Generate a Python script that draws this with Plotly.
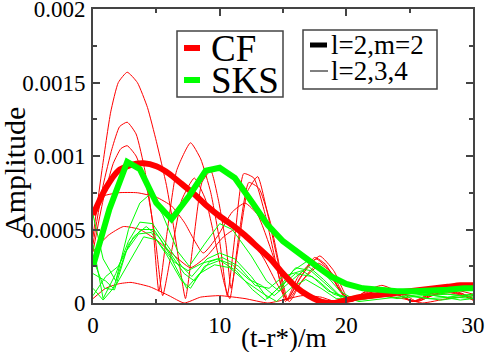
import plotly.graph_objects as go

# thick curves (l=2, m=2)
cf_t = [0, 1, 2, 3, 4, 5, 6, 7, 8, 9, 10, 11, 12, 13, 14, 15, 16, 17, 18, 19,
        20, 21, 22, 23, 24, 25, 26, 27, 28, 29, 30]
cf_amp = [0.0006, 0.00078, 0.0009, 0.00094, 0.00095, 0.00093, 0.00088, 0.00081,
          0.00074, 0.00066, 0.00059, 0.00053, 0.00046, 0.00038, 0.0003, 0.0002,
          0.00011, 0.00005, 0.00001, 0.0, 0.00002, 0.00004, 0.00005, 0.00006,
          0.00007, 0.00008, 0.00009, 0.0001, 0.00011, 0.00012, 0.00012]

sks_t = [0, 1.3, 2.7, 3.7, 5.0, 6.2, 7.6, 8.9, 10.0, 11.2, 12.6, 13.8, 15.0,
         16.3, 17.5, 18.8, 20.0, 21.3, 22.6, 24.0, 25.3, 26.6, 28.0, 29.3, 30]
sks_amp = [0.00025, 0.00064, 0.00096, 0.00091, 0.00068, 0.00057, 0.00073,
           0.0009, 0.00092, 0.00085, 0.00068, 0.00053, 0.00042, 0.00033,
           0.00026, 0.00018, 0.00013, 0.0001, 0.00009, 0.00008, 0.00008,
           0.00008, 0.00009, 0.0001, 0.0001]

# thin curves (l=2,3,4), CF
cf_thin = [
    ([0, 0.7, 1.4, 2.0, 2.7, 3.5, 4.3, 5.0, 5.8, 6.4, 6.9, 7.3, 7.9, 8.6, 9.3, 9.9,
      10.5, 10.9, 11.5, 12.2, 13.0, 13.8, 14.6, 15.3, 16.3, 17.5, 18.4, 19.3, 20.3,
      21.5, 22.8, 24.0, 25.2, 26.5, 27.8, 29.0, 30],
     [0.00045, 0.0009, 0.0013, 0.0015, 0.00157, 0.0015, 0.00133, 0.0011, 0.0008,
      0.0005, 0.00022, 0.00003, 0.0004, 0.00082, 0.0009, 0.0007, 0.0004, 0.0001,
      0.0004, 0.00076, 0.00086, 0.0006, 0.00028, 0.00002, 0.00016, 0.00031,
      0.00026, 0.00011, 0.00001, 0.00008, 0.00012, 0.00008, 0.00001, 0.00006,
      0.00009, 0.00007, 0.00003]),
    ([0, 0.8, 1.5, 2.1, 2.7, 3.4, 4.1, 4.7, 5.2, 5.8, 6.6, 7.7, 8.5, 9.3, 10.0, 10.6,
      11.2, 11.9, 12.7, 13.6, 14.5, 15.2, 16.2, 17.6, 18.7, 19.5, 20.2, 21.4, 22.6,
      24.0, 25.4, 26.6, 27.8, 29.0, 30],
     [0.0004, 0.0008, 0.00105, 0.0012, 0.00123, 0.00115, 0.0009, 0.00055, 0.00008,
      0.00045, 0.0009, 0.00109, 0.00098, 0.00075, 0.00042, 0.00005, 0.00045,
      0.00088, 0.00085, 0.0006, 0.00025, 0.00001, 0.00018, 0.0003, 0.00022,
      0.00008, 0.00001, 0.00007, 0.0001, 0.00006, 0.00001, 0.00006, 0.00008,
      0.00006, 0.00002]),
    ([0, 0.8, 1.6, 2.2, 2.7, 3.4, 4.2, 4.9, 5.5, 6.2, 7.0, 8.0, 8.9, 9.7, 10.4,
      10.8, 11.5, 12.3, 13.1, 14.0, 14.8, 15.4, 16.4, 17.8, 18.9, 19.7, 20.4, 21.6,
      22.9, 24.2, 25.5, 26.8, 28.1, 29.2, 30],
     [0.00035, 0.0007, 0.00095, 0.00105, 0.00107, 0.001, 0.0008, 0.00045, 0.00005,
      0.00035, 0.0007, 0.00085, 0.0007, 0.0004, 0.00012, 0.00003, 0.00045,
      0.00082, 0.00078, 0.00055, 0.00022, 0.00002, 0.00014, 0.00027, 0.0002,
      0.00007, 0.00001, 0.00006, 0.00009, 0.00005, 0.00001, 0.00005, 0.00007,
      0.00005, 0.00002]),
    ([0, 0.6, 2.0, 3.5, 5.0, 6.2, 7.2, 8.7, 9.8, 11.0, 12.0, 13.0, 14.3, 15.3,
      16.4, 17.9, 19.0, 20.3, 21.6, 22.8, 24.0, 25.2, 26.6, 28.0, 29.2, 30],
     [0.00058, 0.00072, 0.00075, 0.00075, 0.00072, 0.00066, 0.00055, 0.00034,
      0.00045, 0.00062, 0.00068, 0.0006, 0.0003, 0.00002, 0.00018, 0.00032,
      0.00022, 0.00001, 0.00007, 0.0001, 0.00006, 0.00001, 0.00005, 0.00008,
      0.00006, 0.00003]),
    ([0, 1.2, 2.4, 3.7, 5.0, 6.2, 7.7, 9.0, 10.3, 11.2, 12.3, 13.5, 14.6, 15.5,
      16.5, 17.8, 19.0, 20.2, 21.5, 23.0, 24.5, 25.6, 27.0, 28.5, 30],
     [0.00035, 0.00046, 0.00052, 0.0005, 0.00043, 0.00034, 0.00024, 0.00032,
      0.00045, 0.0005, 0.00045, 0.0003, 0.00012, 0.00001, 0.00015, 0.00025,
      0.00015, 0.00002, 0.00006, 0.0001, 0.00006, 0.00001, 0.00006, 0.00009,
      0.00006]),
    ([0, 1, 2, 3, 4.5, 6, 7.2, 8.5, 10, 12, 13.8, 15, 16.5, 18, 19.5, 21, 23,
      25, 26, 28, 30],
     [0.00003, 0.0001, 0.00013, 0.00014, 0.00011, 0.00005, 0.0, 0.00004,
      0.00005, 0.00003, 0.0, 0.00002, 0.00005, 0.00004, 0.0, 0.00003, 0.00005,
      0.00002, 0.0, 0.00003, 0.00005]),
]

# thin curves (l=2,3,4), SKS
sks_thin = [
    ([0, 0.8, 1.8, 2.8, 3.7, 4.5, 5.5, 6.7, 7.6, 8.8, 10, 11, 12.5, 13.7, 14.7,
      15.8, 17, 18.3, 19.5, 20.5, 22, 24, 26, 28, 30],
     [0.0006, 0.0003, 0.00015, 0.0005, 0.00068, 0.00074, 0.0006, 0.00035,
      0.00025, 0.0004, 0.00054, 0.0005, 0.00032, 0.00015, 0.00008, 0.00022,
      0.00029, 0.0002, 0.00008, 0.00003, 0.00006, 0.00008, 0.00006, 0.00004,
      0.00006]),
    ([0, 0.8, 1.8, 2.8, 3.7, 4.7, 5.8, 7, 7.8, 9, 10, 11.2, 12.5, 13.8, 14.8, 16,
      17.2, 18.5, 19.8, 21.5, 23.5, 25.5, 27.5, 30],
     [0.0004, 0.00003, 0.0002, 0.00042, 0.00055, 0.00054, 0.0004, 0.00025,
      0.00018, 0.0003, 0.00034, 0.0003, 0.00018, 0.00003, 0.00012, 0.00024,
      0.00022, 0.00012, 0.00002, 0.00005, 0.00007, 0.00004, 0.00002, 0.00005]),
    ([0, 0.9, 1.7, 2.8, 3.8, 4.8, 6, 7.2, 8, 9.2, 10.2, 11.5, 12.8, 13.9, 15,
      16.5, 17.8, 19, 20.5, 22.5, 24.5, 26.5, 28.5, 30],
     [0.0003, 0.0001, 0.00009, 0.0004, 0.0005, 0.0005, 0.00035, 0.0002, 0.00015,
      0.00028, 0.00031, 0.00025, 0.00012, 0.0001, 0.00018, 0.00022, 0.00015,
      0.00006, 0.00002, 0.00004, 0.00006, 0.00003, 0.00004, 0.00003]),
    ([0, 1, 1.6, 2.6, 3.6, 4.6, 5.8, 7, 7.7, 8.8, 10, 11.3, 12.6, 13.6, 14.6, 16,
      17.3, 18.6, 20, 22, 24, 26, 28, 30],
     [0.0002, 0.00015, 0.0001, 0.00035, 0.00047, 0.00048, 0.00033, 0.00015,
      0.0001, 0.00025, 0.00029, 0.00022, 0.00009, 0.00002, 0.0001, 0.0002,
      0.00018, 0.00008, 0.00004, 0.00006, 0.00003, 0.00005, 0.00006, 0.00004]),
    ([0, 0.8, 1.8, 3, 4, 5, 6.2, 7.4, 8.4, 9.6, 10.8, 12, 13.5, 14.5, 15.6, 16.8,
      18, 19.2, 21, 23, 25, 27, 29, 30],
     [0.0001, 0.00002, 0.00012, 0.0003, 0.00045, 0.00043, 0.0003, 0.0001,
      0.0002, 0.00026, 0.00024, 0.00015, 0.00006, 0.00001, 0.0001, 0.00016,
      0.0001, 0.00003, 0.00002, 0.00005, 0.00007, 0.00005, 0.00002, 0.00003]),
    ([0, 1, 2, 3.2, 4.2, 5.2, 6.4, 7.5, 8.6, 9.8, 11, 12.3, 13.3, 14.3, 15.5, 17,
      18.2, 19.5, 21, 23, 25, 27, 29, 30],
     [0.00005, 0.00018, 0.00025, 0.00045, 0.00052, 0.00045, 0.00028, 0.00022,
      0.00027, 0.0003, 0.00026, 0.00016, 0.00012, 0.00005, 0.00014, 0.00025,
      0.00016, 0.00005, 0.00001, 0.00003, 0.00005, 0.00007, 0.00005, 0.00006]),
]

x_ticks = [0, 10, 20, 30]
y_ticks = [0, 0.0005, 0.001, 0.0015, 0.002]
y_labels = ['0', '0.0005', '0.001', '0.0015', '0.002']

RED = '#ff0000'
GREEN = '#00ff00'
FONT = 'Liberation Serif'

fig = go.Figure()

for t, a in cf_thin:
    fig.add_trace(go.Scatter(x=t, y=a, mode='lines',
                             line=dict(color=RED, width=1, shape='spline', smoothing=0.5),
                             showlegend=False, hoverinfo='skip'))
for t, a in sks_thin:
    fig.add_trace(go.Scatter(x=t, y=a, mode='lines', line=dict(color=GREEN, width=1),
                             showlegend=False, hoverinfo='skip'))

fig.add_trace(go.Scatter(x=cf_t, y=cf_amp, mode='lines', name='CF',
                         line=dict(color=RED, width=6, shape='spline', smoothing=0.6),
                         showlegend=False))
fig.add_trace(go.Scatter(x=sks_t, y=sks_amp, mode='lines', name='SKS',
                         line=dict(color=GREEN, width=6), showlegend=False))

axis_common = dict(
    showgrid=False, zeroline=False, showline=True, linecolor='#444', linewidth=2,
    mirror='ticks', ticks='inside', ticklen=7, tickwidth=1.5, tickcolor='#444',
    tickfont=dict(family=FONT, size=23, color='black'),
    automargin=False, ticklabeloverflow='allow',
)

fig.update_layout(
    width=485, height=352,
    margin=dict(l=93, r=12, t=9, b=49),
    paper_bgcolor='white', plot_bgcolor='white',
    font=dict(family=FONT, color='black'),
    xaxis=dict(range=[0, 30], tickvals=x_ticks,
               minor=dict(ticks='inside', dtick=5, ticklen=4, tickcolor='#444'),
               **axis_common),
    yaxis=dict(range=[0, 0.002], tickvals=y_ticks, ticktext=y_labels,
               minor=dict(ticks='inside', dtick=0.00025, ticklen=4, tickcolor='#444'),
               ticklabelstandoff=1,
               **axis_common),
)


def px(xp):
    return (xp - 93) / 380


def py(yp):
    return (303 - yp) / 294


# axis titles
fig.add_annotation(xref='paper', yref='paper', x=px(283), y=py(338),
                   text='(t-r*)/m', showarrow=False, xanchor='center', yanchor='middle',
                   font=dict(family=FONT, size=27, color='black'))
fig.add_annotation(xref='paper', yref='paper', x=px(15), y=py(171),
                   text='Amplitude', showarrow=False, textangle=-90,
                   xanchor='center', yanchor='middle',
                   font=dict(family=FONT, size=30, color='black'))

# legend boxes
legend_items = [
    # (x0, x1, y, color, width, text, text_x, size)
    (184, 200, 48, RED, 6, 'CF', 209, 37),
    (184, 200, 80, GREEN, 6, 'SKS', 209, 37),
    (310, 327, 45, 'black', 5, 'l=2,m=2', 329, 27),
    (310, 328, 71, 'black', 1, 'l=2,3,4', 329, 27),
]

for x0, y0, x1, y1 in [(177, 31, 283, 97), (303, 30, 437, 89)]:
    fig.add_shape(type='rect', xref='paper', yref='paper',
                  x0=px(x0), x1=px(x1), y0=py(y1), y1=py(y0),
                  line=dict(color='#444', width=1.5), fillcolor='white', layer='above')

for x0, x1, y, col, w, txt, tx, size in legend_items:
    fig.add_shape(type='line', xref='paper', yref='paper',
                  x0=px(x0), x1=px(x1), y0=py(y), y1=py(y),
                  line=dict(color=col, width=w), layer='above')
    fig.add_annotation(xref='paper', yref='paper', x=px(tx), y=py(y),
                       text=txt, showarrow=False, xanchor='left', yanchor='middle',
                       font=dict(family=FONT, size=size, color='black'))

# page body has a default margin; drop it so the figure fills the window
fig.write_html("out.html", config={'displayModeBar': False},
               post_script="document.body.style.margin='0';")
